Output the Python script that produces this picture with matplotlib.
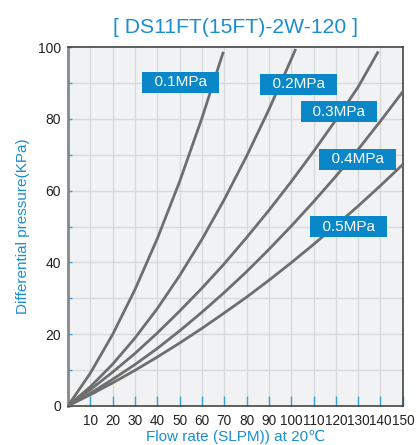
import matplotlib
matplotlib.use("Agg")
import matplotlib.pyplot as plt

plt.rcParams['font.family'] = ['Liberation Sans', 'DejaVu Sans']

# valores (caudal SLPM, presion diferencial KPa)
flow_01 = [0, 10, 20, 30, 40, 50, 60, 69.6]
dp_01 = [0, 9.1, 19.9, 32.4, 46.6, 62.5, 80.2, 98.7]

flow_02 = [0, 10, 20, 30, 40, 50, 60, 70, 80, 90, 100, 102]
dp_02 = [0, 5.3, 11.6, 18.9, 27.1, 36.3, 46.4, 57.5, 69.6, 82.6, 96.6, 99.5]

flow_03 = [0, 10, 20, 30, 40, 50, 60, 70, 80, 90, 100, 110, 120, 130, 139]
dp_03 = [0, 4.5, 9.4, 14.6, 20.3, 26.4, 32.8, 39.6, 46.9, 54.5, 62.5, 70.9, 79.7, 88.9, 98.8]

flow_04 = [0, 10, 20, 30, 40, 50, 60, 70, 80, 90, 100, 110, 120, 130, 140, 150]
dp_04 = [0, 3.5, 7.4, 11.5, 16.0, 20.9, 26.1, 31.6, 37.4, 43.6, 50.1, 56.9, 64.0, 71.5, 79.4, 87.6]

flow_05 = [0, 10, 20, 30, 40, 50, 60, 70, 80, 90, 100, 110, 120, 130, 140, 150]
dp_05 = [0, 3.1, 6.4, 9.9, 13.6, 17.5, 21.6, 25.9, 30.3, 35.0, 39.9, 45.0, 50.3, 55.7, 61.4, 67.3]

labels = ['0.1MPa', '0.2MPa', '0.3MPa', '0.4MPa', '0.5MPa']
label_x = [50.5, 103.4, 121.4, 129.6, 125.8]
label_y = [90.2, 89.6, 82.0, 68.7, 50.0]

x_ticks = [10, 20, 30, 40, 50, 60, 70, 80, 90, 100, 110, 120, 130, 140, 150]
y_ticks = [0, 20, 40, 60, 80, 100]

azul = '#1a8ed0'
caja = '#0a87c9'
gris = '#6e6e6e'

fig = plt.figure(figsize=(4.17, 4.45), dpi=100)
ax = fig.add_axes([0.163, 0.088, 0.803, 0.806])
ax.set_facecolor('#f1f2f4')

# rejilla
for gx in range(10, 150, 10):
    ax.axvline(gx, color='#d8d9db', lw=1.0, zorder=1)
for gy in range(10, 100, 10):
    ax.axhline(gy, color='#d8d9db', lw=1.0, zorder=1)

curvas = [(flow_01, dp_01), (flow_02, dp_02), (flow_03, dp_03), (flow_04, dp_04), (flow_05, dp_05)]
for fx, fy in curvas:
    ax.plot(fx, fy, color=gris, lw=2.0, zorder=3, solid_capstyle='butt')

for txt, lx, ly in zip(labels, label_x, label_y):
    ax.text(lx, ly, '  ' + txt + '  ', color='white', fontsize=11, ha='center', va='center', zorder=5,
            bbox=dict(boxstyle='square,pad=0.24', fc=caja, ec='none'))

ax.set_xlim(0, 150)
ax.set_ylim(0, 100)
ax.set_xticks(x_ticks)
ax.set_xticklabels([str(v) for v in x_ticks])
ax.set_yticks(y_ticks)
ax.set_yticks(range(10, 100, 10), minor=True)
ax.tick_params(axis='x', direction='in', length=7, width=1.0, color='#3aa0d8', labelsize=9.8,
               labelcolor='#222222', pad=6)
ax.tick_params(axis='y', which='both', direction='in', length=3, width=1.0, color='#3aa0d8',
               labelsize=10, labelcolor='#222222', pad=5)

for s in ['top', 'right', 'bottom']:
    ax.spines[s].set_color('#444444')
    ax.spines[s].set_linewidth(1.2)
ax.spines['left'].set_color('#888888')
ax.spines['left'].set_linewidth(2.0)

ax.set_ylabel('Differential pressure(KPa)', color=azul, fontsize=11, labelpad=6)
fig.text(0.565, 0.008, 'Flow rate (SLPM)) at 20\u2103', color=azul, fontsize=11, ha='center', va='baseline')
fig.text(0.565, 0.938, '[ DS11FT(15FT)-2W-120 ]', color=azul, fontsize=15.2, ha='center', va='center')

fig.savefig('out.png', dpi=100)
